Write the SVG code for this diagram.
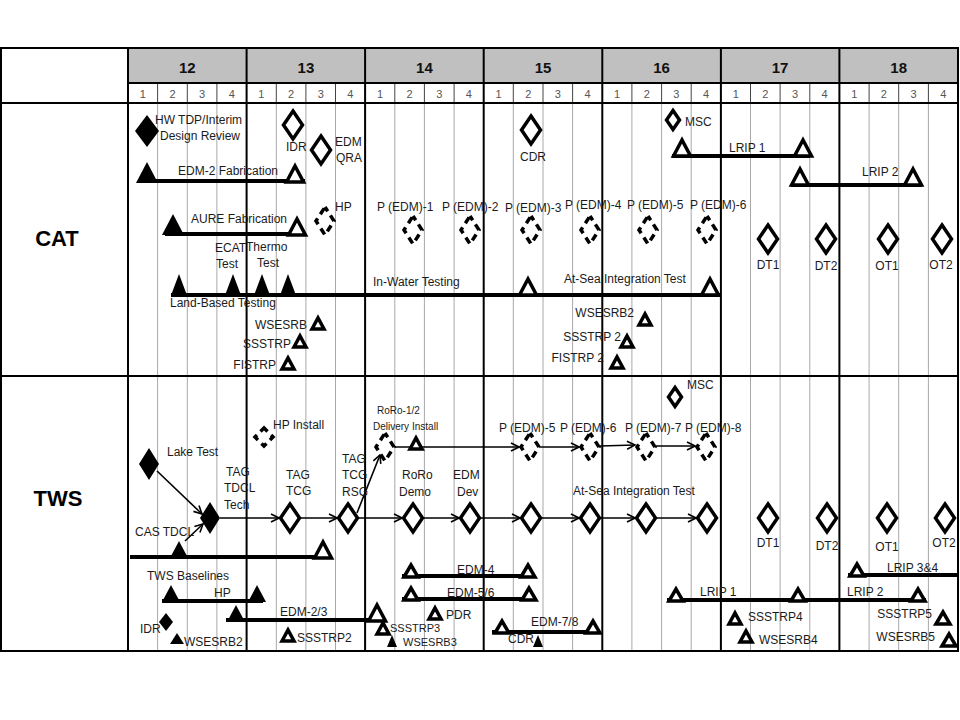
<svg xmlns="http://www.w3.org/2000/svg" xmlns:xlink="http://www.w3.org/1999/xlink" width="960" height="720" viewBox="0 0 960 720">
<style>
text{font-family:"Liberation Sans",Arial,sans-serif;font-size:12px;fill:#1b1b1b}
.yr{font-size:15px;font-weight:bold;text-anchor:middle;fill:#111}
.q{font-size:11px;text-anchor:middle;fill:#555}
.big{font-size:22px;font-weight:bold;text-anchor:middle;fill:#000}
.m{text-anchor:middle}
.e{text-anchor:end}
.sm{font-size:10px}
.s11{font-size:11px}
.open{fill:#fff;stroke:#000;stroke-width:3.5}
.fill{fill:#000;stroke:none}
.dash{fill:#fff;stroke:#000;stroke-width:3.5;stroke-dasharray:7 5;stroke-dashoffset:2}
.bar{stroke:#000;stroke-width:4;fill:none}
.conn{stroke:#000;stroke-width:1.6;fill:none;marker-end:url(#ah)}
.qg{stroke:#a8a8a8;stroke-width:1}
.qh{stroke:#444;stroke-width:1}
.yl{stroke:#000;stroke-width:2}
</style>
<defs>
<marker id="ah" markerWidth="10" markerHeight="10" refX="9" refY="5" orient="auto" markerUnits="userSpaceOnUse">
<path d="M1,1 L9,5 L1,9" fill="none" stroke="#000" stroke-width="1.6"/>
</marker>
<polygon id="dO" class="open" points="0,-14 9.5,0 0,14 -9.5,0"/>
<polygon id="dOs" class="open" points="0,-9.5 6.5,0 0,9.5 -6.5,0"/>
<polygon id="dF" class="fill" points="0,-16 12,0 0,16 -12,0"/>
<polygon id="dF2" class="fill" points="0,-16 10,0 0,16 -10,0"/>
<polygon id="dFs" class="fill" points="0,-9 7,0 0,9 -7,0"/>
<polygon id="dD" class="dash" points="0,-14 9,0 0,14 -9,0"/>
<polygon id="dDs" class="dash" points="0,-9 9,0 0,9 -9,0"/>
<polygon id="tO" class="open" points="-8.5,0 0,-16 8.5,0"/>
<polygon id="tOm" class="open" points="-7,0 0,-12 7,0"/>
<polygon id="tOs" class="open" points="-6,0 0,-11 6,0"/>
<polygon id="tF" class="fill" points="-11,0 0,-21 11,0"/>
<polygon id="tFn" class="fill" points="-7.5,0 0,-20 7.5,0"/>
<polygon id="tFm" class="fill" points="-9,0 0,-17 9,0"/>
<polygon id="tFs" class="fill" points="-7,0 0,-11 7,0"/>
<polygon id="tFt" class="fill" points="-5,0 0,-12 5,0"/>
</defs>
<rect width="960" height="720" fill="#fff"/>
<g id="grid">
<rect x="128" y="48" width="830" height="35" fill="#c0c0c0"/>
<path class="qh" d="M157.6,83V103M187.3,83V103M216.9,83V103M276.3,83V103M305.9,83V103M335.5,83V103M394.8,83V103M424.4,83V103M454.1,83V103M513.3,83V103M543,83V103M572.6,83V103M631.9,83V103M661.6,83V103M691.2,83V103M750.5,83V103M780.1,83V103M809.8,83V103M869.1,83V103M898.7,83V103M928.4,83V103"/>
<path class="qg" d="M157.6,103V651M187.3,103V651M216.9,103V651M276.3,103V651M305.9,103V651M335.5,103V651M394.8,103V651M424.4,103V651M454.1,103V651M513.3,103V651M543,103V651M572.6,103V651M631.9,103V651M661.6,103V651M691.2,103V651M750.5,103V651M780.1,103V651M809.8,103V651M869.1,103V651M898.7,103V651M928.4,103V651"/>
<path class="yl" d="M128,48V651M246.6,48V651M365.1,48V651M483.7,48V651M602.3,48V651M720.9,48V651M839.4,48V651M128,83H958M1,103H958M1,376H958"/>
<rect x="1" y="48" width="957" height="603" fill="none" stroke="#000" stroke-width="2"/>
<text class="yr" x="187.3" y="73">12</text><text class="yr" x="305.9" y="73">13</text><text class="yr" x="424.4" y="73">14</text><text class="yr" x="543" y="73">15</text><text class="yr" x="661.6" y="73">16</text><text class="yr" x="780.1" y="73">17</text><text class="yr" x="898.7" y="73">18</text>
<text class="q" x="142.8" y="98">1</text><text class="q" x="172.5" y="98">2</text><text class="q" x="202.1" y="98">3</text><text class="q" x="231.8" y="98">4</text>
<text class="q" x="261.4" y="98">1</text><text class="q" x="291.1" y="98">2</text><text class="q" x="320.7" y="98">3</text><text class="q" x="350.4" y="98">4</text>
<text class="q" x="380" y="98">1</text><text class="q" x="409.6" y="98">2</text><text class="q" x="439.3" y="98">3</text><text class="q" x="468.9" y="98">4</text>
<text class="q" x="498.5" y="98">1</text><text class="q" x="528.2" y="98">2</text><text class="q" x="557.8" y="98">3</text><text class="q" x="587.5" y="98">4</text>
<text class="q" x="617.1" y="98">1</text><text class="q" x="646.8" y="98">2</text><text class="q" x="676.4" y="98">3</text><text class="q" x="706.1" y="98">4</text>
<text class="q" x="735.7" y="98">1</text><text class="q" x="765.3" y="98">2</text><text class="q" x="795" y="98">3</text><text class="q" x="824.6" y="98">4</text>
<text class="q" x="854.3" y="98">1</text><text class="q" x="883.9" y="98">2</text><text class="q" x="913.6" y="98">3</text><text class="q" x="943.2" y="98">4</text>
<text class="big" x="57" y="246">CAT</text>
<text class="big" x="58" y="506">TWS</text>
</g>
<g id="connectors">
<line class="conn" x1="157" y1="471" x2="202" y2="514"/>
<line class="conn" x1="185" y1="541" x2="203" y2="524"/>
<line class="conn" x1="220" y1="518" x2="279" y2="518"/>
<line class="conn" x1="301" y1="518" x2="337" y2="518"/>
<line class="conn" x1="359" y1="518" x2="402" y2="518"/>
<line class="conn" x1="424" y1="518" x2="459" y2="518"/>
<line class="conn" x1="481" y1="518" x2="520" y2="518"/>
<line class="conn" x1="542" y1="518" x2="579" y2="518"/>
<line class="conn" x1="601" y1="518" x2="635" y2="518"/>
<line class="conn" x1="657" y1="518" x2="696" y2="518"/>
<line class="conn" x1="357" y1="513" x2="380" y2="455"/>
<line class="conn" x1="395" y1="447" x2="519" y2="447"/>
<line class="conn" x1="541" y1="447" x2="579" y2="447"/>
<line class="conn" x1="600" y1="446" x2="635" y2="445"/>
<line class="conn" x1="656" y1="446" x2="695" y2="446"/>
</g>
<g id="cat-bars">
<line class="bar" x1="138" y1="181" x2="305" y2="181"/>
<line class="bar" x1="165" y1="234" x2="305" y2="234"/>
<line class="bar" x1="672" y1="156" x2="810" y2="156"/>
<line class="bar" x1="791" y1="185" x2="922" y2="185"/>
<line class="bar" x1="171" y1="295" x2="720" y2="295"/>
</g>
<g id="hw-tdp"><use href="#dF" x="147" y="131"/><text x="155" y="124">HW TDP/Interim</text><text x="160" y="140">Design Review</text></g>
<g id="cat-idr"><use href="#dO" x="293" y="125"/><text x="286" y="151">IDR</text></g>
<g id="edm-qra"><use href="#dO" x="321" y="150"/><text x="335" y="146">EDM</text><text x="336" y="162">QRA</text></g>
<g id="cat-cdr"><use href="#dO" x="531" y="130"/><text class="m" x="533" y="161">CDR</text></g>
<g id="cat-msc"><use href="#dOs" x="673" y="120"/><text x="685" y="126">MSC</text></g>
<g id="edm2-fab"><use href="#tF" x="147" y="183"/><use href="#tO" x="295" y="182"/><text x="178" y="175">EDM-2 Fabrication</text></g>
<g id="aure-fab"><use href="#tF" x="173" y="235"/><use href="#tO" x="297" y="235"/><text x="191" y="223">AURE Fabrication</text></g>
<g id="cat-hp"><use href="#dD" x="325" y="221"/><text x="335" y="211">HP</text></g>
<g id="pedm1"><use href="#dD" x="413" y="230"/><text x="377" y="211">P (EDM)-1</text></g>
<g id="pedm2"><use href="#dD" x="470" y="230"/><text x="442" y="211">P (EDM)-2</text></g>
<g id="pedm3"><use href="#dD" x="531" y="230"/><text x="505" y="212">P (EDM)-3</text></g>
<g id="pedm4"><use href="#dD" x="590" y="230"/><text x="565" y="209">P (EDM)-4</text></g>
<g id="pedm5"><use href="#dD" x="648" y="230"/><text x="627" y="209">P (EDM)-5</text></g>
<g id="pedm6"><use href="#dD" x="707" y="230"/><text x="690" y="209">P (EDM)-6</text></g>
<g id="cat-lrip1"><use href="#tO" x="682" y="156"/><use href="#tO" x="803" y="156"/><text x="729" y="152">LRIP 1</text></g>
<g id="cat-lrip2"><use href="#tO" x="800" y="185"/><use href="#tO" x="913" y="185"/><text x="862" y="176">LRIP 2</text></g>
<g id="cat-dt1"><use href="#dO" x="768" y="239"/><text class="m" x="768" y="269">DT1</text></g>
<g id="cat-dt2"><use href="#dO" x="826" y="239"/><text class="m" x="826" y="270">DT2</text></g>
<g id="cat-ot1"><use href="#dO" x="888" y="239"/><text class="m" x="887" y="270">OT1</text></g>
<g id="cat-ot2"><use href="#dO" x="942" y="239"/><text class="m" x="941" y="269">OT2</text></g>
<g id="land-based"><use href="#tFn" x="179" y="294"/><use href="#tFn" x="233" y="294"/><use href="#tFn" x="262" y="294"/><use href="#tFn" x="288" y="294"/><text x="170" y="307">Land-Based Testing</text><text x="215" y="252">ECAT</text><text x="216" y="268">Test</text><text x="246" y="251">Thermo</text><text x="257" y="267">Test</text></g>
<g id="in-water"><use href="#tO" x="528" y="295"/><text x="373" y="286">In-Water Testing</text></g>
<g id="at-sea-cat"><use href="#tO" x="710" y="295"/><text x="564" y="283">At-Sea Integration Test</text></g>
<g id="cat-wsesrb"><use href="#tOs" x="318" y="329"/><text class="e" x="307" y="329">WSESRB</text></g>
<g id="cat-ssstrp"><use href="#tOs" x="300" y="347"/><text class="e" x="291" y="348">SSSTRP</text></g>
<g id="cat-fistrp"><use href="#tOs" x="288" y="369"/><text class="e" x="276" y="369">FISTRP</text></g>
<g id="cat-wsesrb2"><use href="#tOs" x="645" y="325"/><text class="e" x="634" y="317">WSESRB2</text></g>
<g id="cat-ssstrp2"><use href="#tOs" x="627" y="347"/><text class="e" x="621" y="341">SSSTRP 2</text></g>
<g id="cat-fistrp2"><use href="#tOs" x="617" y="368"/><text class="e" x="604" y="362">FISTRP 2</text></g>
<g id="tws-bars">
<line class="bar" x1="130" y1="557" x2="330" y2="557"/>
<line class="bar" x1="162" y1="601" x2="263" y2="601"/>
<line class="bar" x1="226" y1="620" x2="385" y2="620"/>
<line class="bar" x1="402" y1="576" x2="534" y2="576"/>
<line class="bar" x1="402" y1="599" x2="534" y2="599"/>
<line class="bar" x1="492" y1="632" x2="600" y2="632"/>
<line class="bar" x1="667" y1="600" x2="926" y2="600"/>
<line class="bar" x1="848" y1="575" x2="958" y2="575"/>
</g>
<g id="tws-msc"><use href="#dOs" x="675" y="397"/><text x="687" y="389">MSC</text></g>
<g id="hp-install"><use href="#dDs" x="264" y="437"/><text x="273" y="429">HP Install</text></g>
<g id="lake-test"><use href="#dF2" x="149" y="464"/><text x="167" y="456">Lake Test</text></g>
<g id="tag-tdcl"><use href="#dF2" x="210" y="518"/><text x="226" y="476">TAG</text><text x="224" y="492">TDCL</text><text x="224" y="509">Tech</text></g>
<g id="cas-tdcl"><use href="#tFm" x="179" y="558"/><use href="#tO" x="323" y="558"/><text x="135" y="536">CAS TDCL</text></g>
<g id="tag-tcg"><use href="#dO" x="290" y="518"/><text x="286" y="479">TAG</text><text x="286" y="495">TCG</text></g>
<g id="tag-tcg-rsg"><use href="#dO" x="348" y="518"/><text x="342" y="463">TAG</text><text x="342" y="479">TCG</text><text x="342" y="496">RSG</text></g>
<g id="roro-delivery"><use href="#dD" x="385" y="447"/><text class="sm" x="377" y="414">RoRo-1/2</text><text class="sm" x="373" y="430">Delivery</text></g>
<g id="roro-install"><use href="#tOs" x="416" y="449"/><text class="sm" x="412" y="430">Install</text></g>
<g id="tws-pedm5"><use href="#dD" x="530" y="447"/><text x="499" y="432">P (EDM)-5</text></g>
<g id="tws-pedm6"><use href="#dD" x="590" y="447"/><text x="560" y="432">P (EDM)-6</text></g>
<g id="tws-pedm7"><use href="#dD" x="646" y="447"/><text x="625" y="432">P (EDM)-7</text></g>
<g id="tws-pedm8"><use href="#dD" x="706" y="447"/><text x="685" y="432">P (EDM)-8</text></g>
<g id="roro-demo"><use href="#dO" x="413" y="518"/><text x="402" y="479">RoRo</text><text x="399" y="496">Demo</text></g>
<g id="edm-dev"><use href="#dO" x="470" y="518"/><text x="453" y="479">EDM</text><text x="457" y="496">Dev</text></g>
<g id="tws-m5"><use href="#dO" x="531" y="518"/></g>
<g id="tws-m6"><use href="#dO" x="590" y="518"/></g>
<g id="tws-m7"><use href="#dO" x="646" y="518"/><text x="573" y="495">At-Sea Integration Test</text></g>
<g id="tws-m8"><use href="#dO" x="707" y="518"/></g>
<g id="tws-dt1"><use href="#dO" x="768" y="518"/><text class="m" x="768" y="547">DT1</text></g>
<g id="tws-dt2"><use href="#dO" x="827" y="518"/><text class="m" x="827" y="550">DT2</text></g>
<g id="tws-ot1"><use href="#dO" x="887" y="518"/><text class="m" x="887" y="551">OT1</text></g>
<g id="tws-ot2"><use href="#dO" x="945" y="518"/><text class="m" x="944" y="547">OT2</text></g>
<g id="tws-baselines"><text x="147" y="580">TWS Baselines</text></g>
<g id="tws-hp"><use href="#tFm" x="171" y="602"/><use href="#tFm" x="257" y="602"/><text x="214" y="597">HP</text></g>
<g id="edm23"><use href="#tFm" x="236" y="622"/><use href="#tO" x="377" y="621"/><text x="280" y="616">EDM-2/3</text></g>
<g id="tws-idr"><use href="#dFs" x="166" y="622"/><text x="140" y="633">IDR</text></g>
<g id="tws-wsesrb2"><use href="#tFs" x="177" y="644"/><text x="184" y="646">WSESRB2</text></g>
<g id="tws-ssstrp2"><use href="#tOs" x="288" y="641"/><text x="297" y="642">SSSTRP2</text></g>
<g id="tws-ssstrp3"><use href="#tOs" x="383" y="634"/><text class="s11" x="390" y="632">SSSTRP3</text></g>
<g id="tws-wsesrb3"><use href="#tFt" x="392" y="647"/><text class="s11" x="403" y="646">WSESRB3</text></g>
<g id="tws-pdr"><use href="#tOs" x="435" y="619"/><text x="446" y="619">PDR</text></g>
<g id="edm4"><use href="#tOm" x="411" y="577"/><use href="#tOm" x="528" y="577"/><text x="457" y="574">EDM-4</text></g>
<g id="edm56"><use href="#tOm" x="411" y="600"/><use href="#tOm" x="529" y="600"/><text x="447" y="597">EDM-5/6</text></g>
<g id="edm78"><use href="#tOm" x="502" y="633"/><use href="#tOm" x="593" y="633"/><text x="531" y="626">EDM-7/8</text></g>
<g id="tws-cdr"><use href="#tFt" x="538" y="647"/><text x="508" y="643">CDR</text></g>
<g id="tws-lrip1"><use href="#tOm" x="676" y="601"/><use href="#tOm" x="798" y="601"/><text x="700" y="596">LRIP 1</text></g>
<g id="tws-lrip2"><use href="#tOm" x="918" y="601"/><text x="847" y="596">LRIP 2</text></g>
<g id="tws-lrip34"><use href="#tOm" x="857" y="576"/><text x="887" y="572">LRIP 3&amp;4</text></g>
<g id="tws-ssstrp4"><use href="#tOs" x="735" y="624"/><text x="748" y="621">SSSTRP4</text></g>
<g id="tws-wsesrb4"><use href="#tOs" x="746" y="642"/><text x="759" y="644">WSESRB4</text></g>
<g id="tws-ssstrp5"><use href="#tOm" x="943" y="624"/><text class="e" x="932" y="618">SSSTRP5</text></g>
<g id="tws-wsesrb5"><use href="#tOm" x="949" y="646"/><text class="e" x="935" y="641">WSESRB5</text></g>
</svg>
